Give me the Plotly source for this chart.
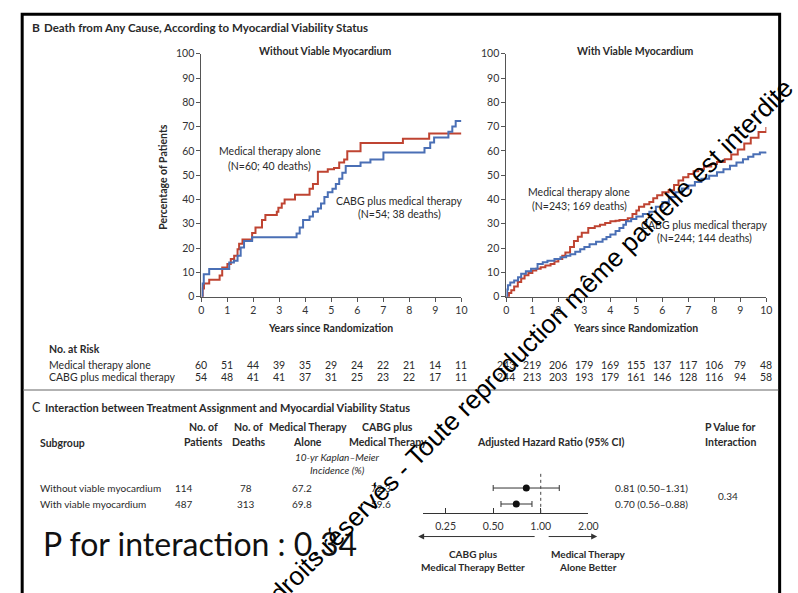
import plotly.graph_objects as go

W, H = 798, 593
def px(x): return x / W
def py(y): return 1 - y / H

FONT = "Lato"
TXT = "#2a2a2a"
RED = "#bf4432"
BLUE = "#4a6fb5"

# ---------------- data ----------------
year_ticks = list(range(0, 11))
pct_ticks = list(range(0, 101, 10))

# Without viable myocardium
t_med_nv = [0, 0.05, 0.1, 0.3, 0.7, 0.8, 1.0, 1.13, 1.26, 1.39, 1.45, 1.58, 1.95, 2.08, 2.33, 2.46, 2.9, 2.96,
            3.09, 3.2, 3.6, 4.16, 4.29, 4.48, 4.86, 5.1, 5.3, 5.49, 5.61, 6.12, 7.75, 8.76, 10]
y_med_nv = [0, 3.4, 5.4, 7.0, 8.7, 12.0, 13.5, 15.5, 16.8, 19.5, 21.8, 23.5, 26.2, 28.5, 31.6, 33.6, 35.0, 36.6,
            38.4, 40.0, 42.0, 44.4, 46.4, 51.4, 52.5, 53.0, 55.2, 56.5, 59.9, 63.3, 65.0, 67.2, 67.2]
t_cabg_nv = [0, 0.04, 0.09, 0.3, 1.07, 1.25, 1.39, 1.51, 1.64, 1.95, 3.66, 3.78, 3.91, 4.16, 4.29, 4.48, 4.6,
             4.73, 4.86, 5.04, 5.17, 5.3, 5.42, 5.55, 6.12, 6.5, 7.0, 8.58, 8.8, 8.95, 9.5, 9.65, 9.78, 10]
y_cabg_nv = [0, 5.4, 9.2, 11.4, 14.1, 14.8, 16.8, 20.2, 22.9, 24.5, 26.0, 28.5, 31.6, 33.0, 35.0, 36.3, 38.4,
             41.0, 43.0, 44.4, 46.4, 48.5, 51.0, 53.8, 55.2, 56.5, 59.3, 61.2, 63.5, 65.5, 67.9, 70.0, 72.3, 72.3]

# With viable myocardium
t_med_v = [0, 0.1, 0.19, 0.3, 0.44, 0.57, 0.7, 0.85, 1.0, 1.15, 1.32, 1.5, 1.7, 1.85, 2.0, 2.15, 2.27, 2.45,
           2.6, 2.75, 2.9, 3.15, 3.4, 3.6, 3.8, 4.0, 4.2, 4.35, 4.67, 4.85, 5.0, 5.1, 5.3, 5.5, 5.65, 5.8, 6.0,
           6.24, 6.45, 6.62, 6.8, 7.0, 7.2, 7.38, 7.6, 7.88, 8.1, 8.4, 8.65, 8.9, 9.15, 9.4, 9.7, 10]
y_med_v = [0, 1.5, 2.7, 4.2, 6.0, 7.5, 8.8, 9.8, 10.8, 11.5, 12.1, 12.8, 13.5, 14.5, 15.5, 16.8, 18.2, 20.5,
           22.9, 24.7, 26.3, 28.3, 29.0, 29.6, 30.3, 31.0, 31.3, 31.6, 32.3, 34.0, 35.5, 37.0, 38.0, 39.0, 40.5,
           41.8, 43.0, 43.8, 46.0, 47.8, 49.2, 50.5, 51.6, 52.6, 53.6, 54.6, 55.4, 56.6, 58.5, 60.6, 63.0, 65.4,
           67.8, 69.8]
t_cabg_v = [0, 0.03, 0.06, 0.15, 0.3, 0.45, 0.57, 0.75, 0.95, 1.2, 1.4, 1.58, 1.85, 2.08, 2.3, 2.46, 2.65,
            2.84, 3.0, 3.2, 3.45, 3.7, 3.85, 4.0, 4.2, 4.35, 4.5, 4.6, 4.8, 5.0, 5.25, 5.5, 5.75, 6.0, 6.25, 6.5,
            6.75, 7.0, 7.25, 7.5, 7.8, 8.1, 8.35, 8.6, 8.85, 9.1, 9.3, 9.5, 9.75, 10]
y_cabg_v = [0, 3.0, 4.7, 5.8, 6.7, 8.0, 9.4, 10.5, 11.5, 13.5, 14.2, 14.8, 15.5, 16.2, 16.8, 17.5, 18.5, 19.5,
            20.5, 21.6, 22.6, 23.6, 24.6, 25.6, 27.0, 28.3, 29.6, 31.0, 32.0, 33.0, 34.0, 35.0, 37.0, 39.0, 41.0,
            43.0, 44.5, 45.8, 47.2, 48.5, 49.8, 51.2, 52.5, 53.9, 55.2, 56.6, 57.6, 58.6, 59.3, 59.6]

risk_labels = ["Medical therapy alone", "CABG plus medical therapy"]
risk_med_nv = [60, 51, 44, 39, 35, 29, 24, 22, 21, 14, 11]
risk_cabg_nv = [54, 48, 41, 41, 37, 31, 25, 23, 22, 17, 11]
risk_med_v = [243, 219, 206, 179, 169, 155, 137, 117, 106, 79, 48]
risk_cabg_v = [244, 213, 203, 193, 179, 161, 146, 128, 116, 94, 58]

subgroups = ["Without viable myocardium", "With viable myocardium"]
n_patients = [114, 487]
n_deaths = [78, 313]
km_med = ["67.2", "69.8"]
km_cabg = ["72.3", "59.6"]
hr = [0.81, 0.70]
hr_lo = [0.50, 0.56]
hr_hi = [1.31, 0.88]
hr_text = ["0.81 (0.50\u20131.31)", "0.70 (0.56\u20130.88)"]
p_interaction = "0.34"
hr_ticks = [0.25, 0.5, 1.0, 2.0]
hr_ticktext = ["0.25", "0.50", "1.00", "2.00"]
row_pos = [1, 0]

watermark = "Tous droits r\u00e9serv\u00e9s - Toute reproduction m\u00eame partielle est interdite"

# ---------------- figure ----------------
fig = go.Figure()

fig.add_trace(go.Scatter(x=t_med_nv, y=y_med_nv, mode="lines", line=dict(color=RED, width=2, shape="hv"),
                         xaxis="x", yaxis="y", showlegend=False))
fig.add_trace(go.Scatter(x=t_cabg_nv, y=y_cabg_nv, mode="lines", line=dict(color=BLUE, width=2, shape="hv"),
                         xaxis="x", yaxis="y", showlegend=False))
fig.add_trace(go.Scatter(x=t_med_v, y=y_med_v, mode="lines", line=dict(color=RED, width=2, shape="hv"),
                         xaxis="x2", yaxis="y2", showlegend=False))
fig.add_trace(go.Scatter(x=t_cabg_v, y=y_cabg_v, mode="lines", line=dict(color=BLUE, width=2, shape="hv"),
                         xaxis="x2", yaxis="y2", showlegend=False))

fig.add_trace(go.Scatter(
    x=hr, y=row_pos, mode="markers",
    marker=dict(color="#111", size=7),
    error_x=dict(type="data", symmetric=False,
                 array=[h - m for h, m in zip(hr_hi, hr)],
                 arrayminus=[m - l for m, l in zip(hr, hr_lo)],
                 color="#333", thickness=1, width=3),
    xaxis="x3", yaxis="y3", showlegend=False))

axc = dict(showline=True, linecolor="#555", linewidth=1, ticks="outside", ticklen=4, tickcolor="#555",
           showgrid=False, zeroline=False, tickfont=dict(family=FONT, size=10.5, color="#333"))

km_y0, km_y1 = 296.7, 48.7
fig.update_layout(
    width=W, height=H, margin=dict(l=0, r=0, t=0, b=0),
    paper_bgcolor="white", plot_bgcolor="rgba(0,0,0,0)",
    xaxis=dict(domain=[px(201.7), px(466)], range=[0, 10], tickvals=year_ticks, anchor="y", **axc),
    yaxis=dict(domain=[py(km_y0), py(km_y1)], range=[0, 100], tickvals=pct_ticks, anchor="x", **axc),
    xaxis2=dict(domain=[px(511.7), px(776)], range=[0, 10], tickvals=year_ticks, anchor="y2", **axc),
    yaxis2=dict(domain=[py(km_y0), py(km_y1)], range=[0, 100], tickvals=pct_ticks, anchor="x2", **axc),
    xaxis3=dict(domain=[px(426.7), px(595)], type="log", range=[-0.747, 0.30103], tickvals=hr_ticks,
                ticktext=hr_ticktext, anchor="y3", showline=True, linecolor="#333", linewidth=1,
                ticks="inside", ticklen=5, tickcolor="#333", showgrid=False, zeroline=False,
                ticklabelstandoff=4,
                tickfont=dict(family=FONT, size=10.5, color="#333")),
    yaxis3=dict(domain=[py(517.3), py(476)], range=[-0.552, 1.98], visible=False, anchor="x3"),
)

ann = []
def T(x, y, text, size=10.5, bold=False, xa="center", color=TXT, italic=False, angle=0, ref=("paper", "paper"), font=FONT):
    if bold:
        text = "<b>" + text + "</b>"
    if italic:
        text = "<i>" + text + "</i>"
    xx = px(x) if ref[0] == "paper" else x
    ann.append(dict(x=xx, y=py(y), xref=ref[0], yref=ref[1], text=text, showarrow=False, xanchor=xa,
                    yanchor="middle", textangle=angle,
                    font=dict(family=font, size=size, color=color)))

# Panel B
T(27, 22, "B", 12, True, "left")
T(40, 22, "Death from Any Cause, According to Myocardial Viability Status", 11.5, True, "left")
T(327, 46, "Without Viable Myocardium", 10.5, True)
T(643, 46, "With Viable Myocardium", 10.5, True)
T(163, 174, "Percentage of Patients", 10.5, True, angle=-90)
T(333, 329, "Years since Randomization", 10.5, True)
T(643, 329, "Years since Randomization", 10.5, True)
T(271, 148, "Medical therapy alone", 10.5)
T(271, 163, "(N=60; 40 deaths)", 10.5)
T(403, 199, "CABG plus medical therapy", 10.5)
T(403, 212, "(N=54; 38 deaths)", 10.5)
T(586, 190, "Medical therapy alone", 10.5)
T(586, 204, "(N=243; 169 deaths)", 10.5)
T(713, 224, "CABG plus medical therapy", 10.5)
T(713, 237, "(N=244; 144 deaths)", 10.5)

# Numbers at risk
T(45, 350, "No. at Risk", 10.5, True, "left")
T(45, 366, risk_labels[0], 10.5, False, "left")
T(45, 379, risk_labels[1], 10.5, False, "left")
for xr, rows in (("x", (risk_med_nv, risk_cabg_nv)), ("x2", (risk_med_v, risk_cabg_v))):
    for yy, vals in zip((366, 379), rows):
        for yr, v in zip(year_ticks, vals):
            T(yr, yy, str(v), 10.5, ref=(xr, "paper"))

# Panel C
T(27, 410, "C", 12.5, False, "left")
T(41, 410, "Interaction between Treatment Assignment and Myocardial Viability Status", 11, True, "left")
T(36, 446, "Subgroup", 10.5, True, "left")
T(204, 430, "No. of", 10.5, True)
T(204, 445, "Patients", 10.5, True)
T(250, 430, "No. of", 10.5, True)
T(250, 445, "Deaths", 10.5, True)
T(310, 430, "Medical Therapy", 10.5, True)
T(310, 445, "Alone", 10.5, True)
T(391, 430, "CABG plus", 10.5, True)
T(391, 445, "Medical Therapy", 10.5, True)
T(340, 460, "10-yr Kaplan\u2013Meier", 10, italic=True)
T(340, 474, "Incidence (%)", 10, italic=True)
T(557, 445, "Adjusted Hazard Ratio (95% CI)", 10.5, True)
T(740, 430, "P Value for", 10.5, True)
T(740, 445, "Interaction", 10.5, True)
for i, yy in enumerate((492, 508)):
    T(36, yy, subgroups[i], 10, False, "left")
    T(184, yy, str(n_patients[i]), 10)
    T(247, yy, str(n_deaths[i]), 10)
    T(304, yy, km_med[i], 10)
    T(384, yy, km_cabg[i], 10)
    T(620, yy, hr_text[i], 10, False, "left")
T(737, 500, p_interaction, 10)
T(478, 559, "CABG plus", 10, True)
T(478, 573, "Medical Therapy Better", 10, True)
T(595, 559, "Medical Therapy", 10, True)
T(595, 573, "Alone Better", 10, True)

# Big overlay text
T(39, 549, "P for interaction : 0.34", 32, False, "left", color="#111")

# Watermark (diagonal)
T(514, 364, watermark, 26, False, "center", color="#000", angle=-45, font="Liberation Sans")

# arrows
ann.append(dict(x=px(422), y=py(541.5), xref="paper", yref="paper", ax=118, ay=0, showarrow=True,
                arrowhead=2, arrowsize=1.2, arrowwidth=1, arrowcolor="#333", text=""))
ann.append(dict(x=px(604), y=py(541.5), xref="paper", yref="paper", ax=-50, ay=0, showarrow=True,
                arrowhead=2, arrowsize=1.2, arrowwidth=1, arrowcolor="#333", text=""))

fig.update_layout(annotations=ann)

shapes = [
    dict(type="rect", xref="paper", yref="paper", x0=px(19.5), x1=px(789.5), y0=py(8.5), y1=py(610),
         line=dict(color="black", width=3)),
    dict(type="line", xref="paper", yref="paper", x0=px(21), x1=px(788), y0=py(392), y1=py(392),
         line=dict(color="#999", width=1.5)),
    dict(type="line", xref="x3", yref="y3 domain", x0=1, x1=1, y0=0, y1=1,
         line=dict(color="#444", width=1, dash="dot")),
]
fig.update_layout(shapes=shapes)

fig.write_html("out.html")
